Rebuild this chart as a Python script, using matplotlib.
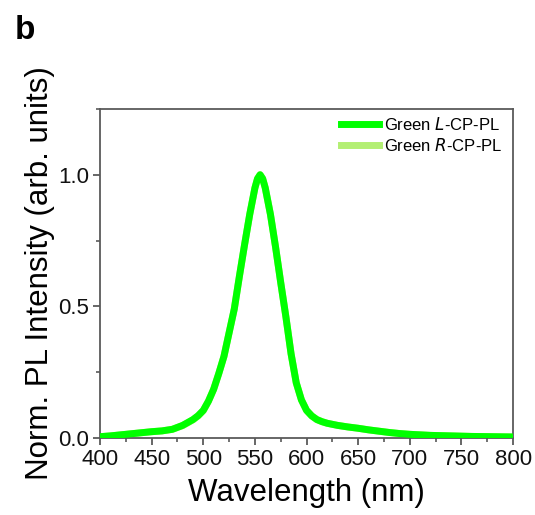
import numpy as np
import matplotlib
matplotlib.use('Agg')
import matplotlib.pyplot as plt
from matplotlib.ticker import MultipleLocator, FormatStrFormatter

plt.rcParams['font.family'] = ['Liberation Sans', 'DejaVu Sans']

# Normalised PL spectra
wavelength = [400, 410, 420, 430, 440, 450, 460, 470, 480, 490, 495,
              500, 505, 510, 515, 520, 525, 530, 535, 540, 545, 550, 552.5, 555,
              557.5, 560, 565, 570, 575, 580, 585, 590, 595, 600, 605, 610, 615, 620,
              630, 640, 650, 660, 670, 680, 690, 700, 720, 740, 760, 780, 800]
pl_left = [0.005, 0.008, 0.012, 0.016, 0.020, 0.024, 0.027, 0.033, 0.048, 0.070, 0.085,
           0.105, 0.14, 0.185, 0.245, 0.31, 0.40, 0.49, 0.615, 0.735, 0.85, 0.95, 0.985, 1.0,
           0.985, 0.95, 0.85, 0.725, 0.59, 0.46, 0.32, 0.21, 0.145, 0.105, 0.084, 0.07, 0.062, 0.056,
           0.048, 0.042, 0.037, 0.031, 0.026, 0.021, 0.017, 0.014, 0.010, 0.008, 0.006, 0.005, 0.004]
pl_right = [0.005, 0.008, 0.012, 0.016, 0.020, 0.024, 0.027, 0.033, 0.047, 0.069, 0.084,
            0.104, 0.14, 0.185, 0.245, 0.31, 0.40, 0.49, 0.615, 0.735, 0.85, 0.95, 0.985, 1.0,
            0.985, 0.95, 0.85, 0.725, 0.59, 0.46, 0.32, 0.21, 0.145, 0.105, 0.084, 0.07, 0.062, 0.056,
            0.048, 0.042, 0.037, 0.031, 0.026, 0.021, 0.017, 0.014, 0.010, 0.008, 0.006, 0.005, 0.004]

fig = plt.figure(figsize=(5.35, 5.15), dpi=100)
ax = fig.add_axes([0.187, 0.1495, 0.772, 0.639])

ax.plot(wavelength, pl_right, color='#b3ef73', lw=5, solid_joinstyle='round',
        label='Green $\\mathit{R}$-CP-PL', zorder=2)
ax.plot(wavelength, pl_left, color='#00ff00', lw=5, solid_joinstyle='round',
        label='Green $\\mathit{L}$-CP-PL', zorder=3)

ax.set_xlim(400, 800)
ax.set_ylim(0, 1.25)
ax.xaxis.set_major_locator(MultipleLocator(50))
ax.xaxis.set_minor_locator(MultipleLocator(25))
ax.yaxis.set_major_locator(MultipleLocator(0.5))
ax.yaxis.set_minor_locator(MultipleLocator(0.25))
ax.yaxis.set_major_formatter(FormatStrFormatter('%.1f'))

spine_col = '#5a5a5a'
for s in ax.spines.values():
    s.set_color(spine_col)
    s.set_linewidth(1.3)
ax.tick_params(which='major', direction='out', length=5, width=1.3, color=spine_col,
               labelsize=16, labelcolor='#111111', pad=3)
ax.tick_params(which='minor', direction='out', length=3, width=1.2, color=spine_col)

ax.set_xlabel('Wavelength (nm)', fontsize=22.5, labelpad=6)
ax.set_ylabel('Norm. PL Intensity (arb. units)', fontsize=22.5, labelpad=2)

handles, labels = ax.get_legend_handles_labels()
ax.legend(handles[::-1], labels[::-1], loc='upper right', frameon=False, fontsize=12,
          handlelength=2.3, handletextpad=0.3, labelspacing=0.25,
          borderaxespad=0.0, bbox_to_anchor=(0.99, 1.0))

fig.text(0.028, 0.94, 'b', fontsize=24, fontweight='bold', ha='left', va='center')

fig.savefig('out.png', dpi=100)
